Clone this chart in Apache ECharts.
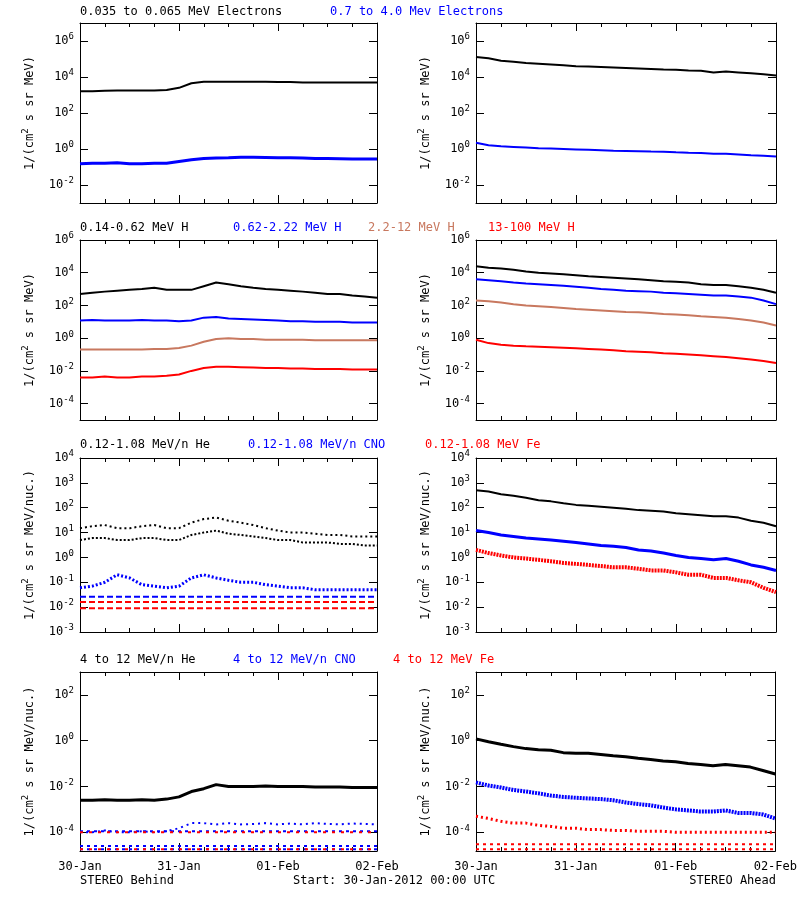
<!DOCTYPE html>
<html><head><meta charset="utf-8">
<script src="https://cdn.jsdelivr.net/npm/echarts@6/dist/echarts.min.js"></script>
<style>body{margin:0;background:#fff}#c{width:800px;height:900px}</style></head>
<body><div id="c"></div>
<script>
const hours=[0,3,6,9,12,15,18,21,24,27,30,33,36,39,42,45,48,51,54,57,60,63,66,69,72];
const xTickLabels=['30-Jan','31-Jan','01-Feb','02-Feb'];
// Row 1 electrons
const bLowE=[1.6e3,1.6e3,1.7e3,1.8e3,1.8e3,1.8e3,1.8e3,1.9e3,2.5e3,4.5e3,5.5e3,5.5e3,5.5e3,5.5e3,5.5e3,5.5e3,5.3e3,5.2e3,5.0e3,5.0e3,5.0e3,5.0e3,5.0e3,5.0e3,5.0e3];
const bHighE=[0.15,0.16,0.16,0.17,0.15,0.15,0.16,0.16,0.2,0.25,0.3,0.32,0.33,0.35,0.35,0.34,0.33,0.33,0.32,0.3,0.3,0.29,0.28,0.28,0.28];
const aLowE=[1.3e5,1.1e5,8e4,7e4,6e4,5.5e4,5e4,4.5e4,4e4,3.8e4,3.6e4,3.4e4,3.2e4,3e4,2.8e4,2.6e4,2.5e4,2.3e4,2.2e4,1.8e4,2e4,1.8e4,1.6e4,1.4e4,1.2e4];
const aHighE=[2.2,1.6,1.4,1.3,1.2,1.1,1.05,1.0,0.95,0.9,0.85,0.8,0.78,0.75,0.72,0.7,0.65,0.62,0.6,0.55,0.55,0.5,0.45,0.42,0.38];
// Row 2 protons
const bH1=[500,600,700,800,900,1000,1200,900,900,900,1500,2500,2000,1500,1200,1000,900,800,700,600,500,500,400,350,300];
const bH2=[12,13,12,12,12,13,12,12,11,12,18,20,16,15,14,13,12,11,11,10,10,10,9,9,9];
const bH3=[0.2,0.2,0.2,0.2,0.2,0.2,0.22,0.22,0.25,0.35,0.6,0.9,1.0,0.9,0.9,0.8,0.8,0.8,0.8,0.75,0.75,0.75,0.75,0.75,0.75];
const bH4=[0.004,0.004,0.0045,0.004,0.004,0.0045,0.0045,0.005,0.006,0.01,0.015,0.018,0.018,0.017,0.016,0.015,0.015,0.014,0.014,0.013,0.013,0.013,0.012,0.012,0.012];
const aH1=[2.5e4,2e4,1.8e4,1.5e4,1.2e4,1e4,9e3,8e3,7e3,6e3,5.5e3,5e3,4.5e3,4e3,3.5e3,3e3,2.8e3,2.5e3,2e3,1.8e3,1.8e3,1.5e3,1.2e3,9e2,6e2];
const aH2=[4e3,3.5e3,3e3,2.5e3,2.2e3,2e3,1.8e3,1.6e3,1.4e3,1.2e3,1e3,9e2,8e2,7.5e2,7e2,6e2,5.5e2,5e2,4.5e2,4e2,4e2,3.5e2,3e2,2e2,1.2e2];
const aH3=[2e2,1.8e2,1.5e2,1.2e2,1e2,90,80,70,60,55,50,45,40,38,35,30,28,25,22,20,18,15,12,9,6];
const aH4=[0.8,0.5,0.4,0.35,0.32,0.3,0.28,0.26,0.24,0.22,0.2,0.18,0.16,0.15,0.14,0.12,0.11,0.1,0.09,0.08,0.07,0.06,0.05,0.04,0.03];
// Row 3 low-energy ions
const bHeUp=[15,18,20,15,15,18,20,15,15,25,35,40,30,25,20,15,12,10,10,9,8,8,7,7,7];
const bHeLo=[5,6,6,5,5,6,6,5,5,8,10,12,9,8,7,6,5,5,4,4,4,3.5,3.5,3,3];
const bCNO=[0.06,0.07,0.1,0.2,0.15,0.08,0.07,0.06,0.07,0.15,0.2,0.15,0.12,0.1,0.1,0.08,0.07,0.06,0.06,0.05,0.05,0.05,0.05,0.05,0.05];
const bCNOfloor=[0.026];
const bFeFloors=[0.016,0.009];
const aHe=[500,450,350,300,250,200,180,150,130,120,110,100,90,80,75,70,60,55,50,45,45,40,30,25,18];
const aCNO=[12,10,8,7,6,5.5,5,4.5,4,3.5,3,2.8,2.5,2,1.8,1.5,1.2,1,0.9,0.8,0.9,0.7,0.5,0.4,0.3];
const aFe=[2,1.5,1.2,1,0.9,0.8,0.7,0.6,0.55,0.5,0.45,0.4,0.4,0.35,0.3,0.3,0.25,0.2,0.2,0.15,0.15,0.12,0.1,0.06,0.04];
// Row 4 high-energy ions
const bHe4=[2.5e-3,2.5e-3,2.6e-3,2.5e-3,2.5e-3,2.6e-3,2.5e-3,2.8e-3,3.5e-3,6e-3,8e-3,1.2e-2,1e-2,1e-2,1e-2,1.05e-2,1e-2,1e-2,1e-2,9.5e-3,9.5e-3,9.5e-3,9e-3,9e-3,9e-3];
const bCNO4=[1e-4,1e-4,1.2e-4,1e-4,1e-4,1.1e-4,1e-4,1.1e-4,1.5e-4,2.5e-4,2.5e-4,2.2e-4,2.5e-4,2.2e-4,2.3e-4,2.5e-4,2.2e-4,2.4e-4,2.2e-4,2.5e-4,2.3e-4,2.2e-4,2.4e-4,2.3e-4,2.2e-4];
const bCNO4floors=[1.1e-4,2.5e-5,1.8e-5];
const bFe4floors=[1e-4,1.8e-5];
const aHe4=[1.2,0.9,0.7,0.55,0.45,0.4,0.38,0.3,0.28,0.28,0.25,0.22,0.2,0.17,0.15,0.13,0.12,0.1,0.09,0.08,0.09,0.08,0.07,0.05,0.035];
const aCNO4=[0.015,0.011,0.009,0.007,0.006,0.005,0.004,0.0035,0.0032,0.003,0.0028,0.0025,0.002,0.0017,0.0015,0.0012,0.001,0.0009,0.0008,0.0008,0.0009,0.0007,0.0007,0.0006,0.0004];
const aFe4=[5e-4,4e-4,3e-4,2.5e-4,2.5e-4,2e-4,1.8e-4,1.5e-4,1.5e-4,1.3e-4,1.3e-4,1.2e-4,1.2e-4,1.1e-4,1.1e-4,1.1e-4,1e-4,1e-4,1e-4,1e-4,1e-4,1e-4,1e-4,1e-4,1e-4];
const aFe4floors=[3e-5,1.8e-5];

const BK='#000000',BL='#0000ff',BR='#c8785f',RD='#ff0000';
const FONT='DejaVu Sans Mono';
const rows=[
 {top:23,h:180,min:-3,max:7,ticks:[-2,0,2,4,6],name:'1/(cm{s|2} s sr MeV)'},
 {top:240,h:180,min:-5,max:6,ticks:[-4,-2,0,2,4,6],name:'1/(cm{s|2} s sr MeV)'},
 {top:458,h:174,min:-3,max:4,ticks:[-3,-2,-1,0,1,2,3,4],name:'1/(cm{s|2} s sr MeV/nuc.)'},
 {top:672,h:179,min:-4.82,max:3,ticks:[-4,-2,0,2],name:'1/(cm{s|2} s sr MeV/nuc.)'}
];
const cols=[{left:80,w:297},{left:476,w:300}];
const grid=[],xAxis=[],yAxis=[],series=[];
const L=Math.log10;
rows.forEach((r,ri)=>cols.forEach((c,ci)=>{
  const g=grid.length;
  grid.push({left:c.left,top:r.top,width:c.w,height:r.h});
  const xb={type:'value',gridIndex:g,min:0,max:72,interval:24,position:'bottom',
    axisLine:{onZero:false,lineStyle:{color:'#000'}},splitLine:{show:false},
    axisTick:{inside:true,length:8,lineStyle:{color:'#000'}},
    minorTick:{show:true,splitNumber:4,length:4,lineStyle:{color:'#000'}},
    axisLabel:{show:ri===3,color:'#000',fontFamily:FONT,fontSize:12,margin:10,
      formatter:v=>xTickLabels[v/24]}};
  xAxis.push(xb);
  xAxis.push(Object.assign({},xb,{position:'top',axisLabel:{show:false}}));
  const yl={type:'value',gridIndex:g,min:r.min,max:r.max,position:'left',
    axisLine:{onZero:false,lineStyle:{color:'#000'}},splitLine:{show:false},
    axisTick:{inside:true,length:8,customValues:r.ticks,lineStyle:{color:'#000'}},
    axisLabel:{customValues:r.ticks,color:'#000',fontFamily:FONT,margin:6,
      formatter:v=>'{b|10}{s|'+v+'}',
      rich:{b:{fontSize:12,fontFamily:FONT,color:'#000'},s:{fontSize:9,fontFamily:FONT,color:'#000',padding:[0,0,8,0]}}},
    name:r.name,nameLocation:'middle',nameGap:42,nameRotate:90,
    nameTextStyle:{fontFamily:FONT,fontSize:12,color:'#000',rich:{s:{fontSize:9,fontFamily:FONT,padding:[0,0,8,0]}}}};
  yAxis.push(yl);
  yAxis.push(Object.assign({},yl,{position:'right',axisLabel:{show:false},name:''}));
}));
function add(g,arr,color,style,width){
  series.push({type:'line',xAxisIndex:2*g,yAxisIndex:2*g,showSymbol:false,silent:true,
    data:hours.map((h,i)=>[h,L(arr[i])]),
    lineStyle:{color,width:width||2,type:style||'solid'}});
}
function flat(g,v,color,style){
  series.push({type:'line',xAxisIndex:2*g,yAxisIndex:2*g,showSymbol:false,silent:true,
    data:[[hours[0],L(v)],[hours[hours.length-1],L(v)]],lineStyle:{color,width:2,type:style}});
}
add(0,bLowE,BK);add(0,bHighE,BL,'solid',3);
add(1,aLowE,BK);add(1,aHighE,BL);
add(2,bH1,BK);add(2,bH2,BL);add(2,bH3,BR);add(2,bH4,RD);
add(3,aH1,BK);add(3,aH2,BL);add(3,aH3,BR);add(3,aH4,RD);
add(4,bHeUp,BK,[2,3]);add(4,bHeLo,BK,[2,2]);add(4,bCNO,BL,[2,2],3);
bCNOfloor.forEach(v=>flat(4,v,BL,[6,3]));bFeFloors.forEach(v=>flat(4,v,RD,[6,3]));
add(5,aHe,BK);add(5,aCNO,BL,'solid',3);add(5,aFe,RD,[2,1],4);
add(6,bHe4,BK,'solid',3);add(6,bCNO4,BL,[2,4]);
bCNO4floors.forEach(v=>flat(6,v,BL,[3,4]));bFe4floors.forEach(v=>flat(6,v,RD,[3,6]));
add(7,aHe4,BK,'solid',3);add(7,aCNO4,BL,[2,1],4);add(7,aFe4,RD,[2,3],3);
aFe4floors.forEach(v=>flat(7,v,RD,[3,4]));

const T=(x,y,t,c,align)=>({type:'text',left:align==='right'?undefined:x,right:align==='right'?x:undefined,top:y,
  style:{text:t,fill:c,font:'12px "'+FONT+'"'}});
const graphic=[
 T(80,6,'0.035 to 0.065 MeV Electrons',BK),T(330,6,'0.7 to 4.0 Mev Electrons',BL),
 T(80,222,'0.14-0.62 MeV H',BK),T(233,222,'0.62-2.22 MeV H',BL),T(368,222,'2.2-12 MeV H',BR),T(488,222,'13-100 MeV H',RD),
 T(80,439,'0.12-1.08 MeV/n He',BK),T(248,439,'0.12-1.08 MeV/n CNO',BL),T(425,439,'0.12-1.08 MeV Fe',RD),
 T(80,654,'4 to 12 MeV/n He',BK),T(233,654,'4 to 12 MeV/n CNO',BL),T(393,654,'4 to 12 MeV Fe',RD),
 T(80,875,'STEREO Behind',BK),T(293,875,'Start: 30-Jan-2012 00:00 UTC',BK),T(24,875,'STEREO Ahead',BK,'right')
];
const ch=echarts.init(document.getElementById('c'));
ch.setOption({animation:false,backgroundColor:'#fff',grid,xAxis,yAxis,series,graphic});
</script></body></html>
